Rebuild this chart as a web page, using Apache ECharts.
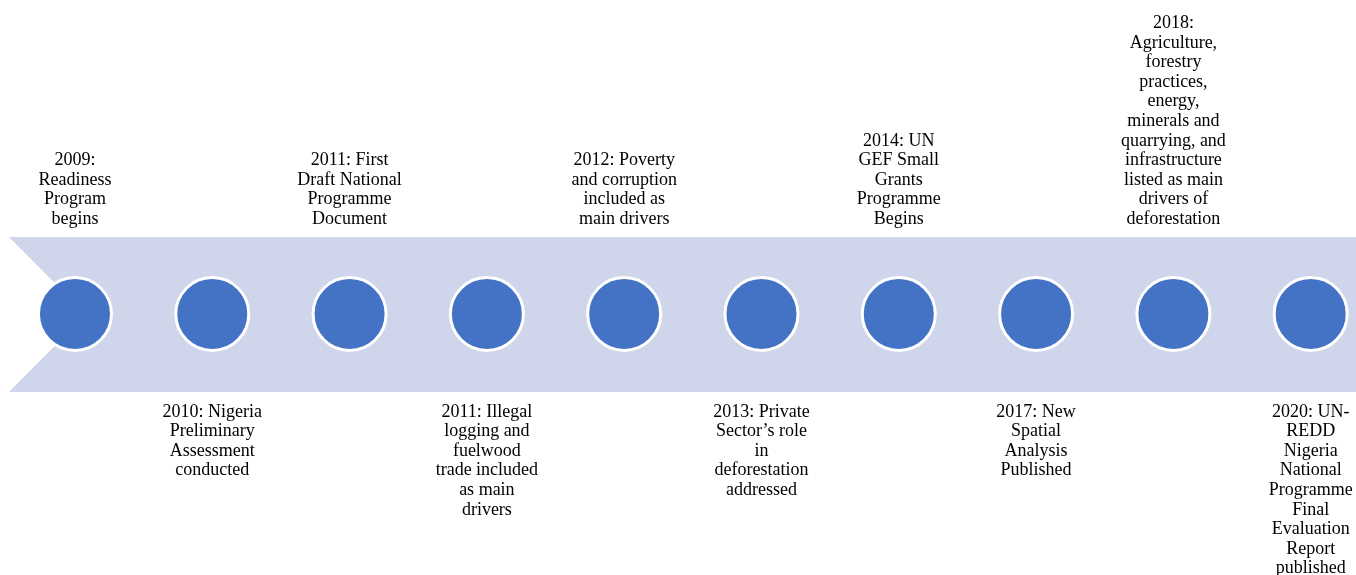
<html>
    <head>
        <meta charset="utf-8">
        <script src="https://cdn.jsdelivr.net/npm/echarts@6/dist/echarts.min.js"></script>
    </head>
    <body>
        <style>
            html, body, #main {
                width: 100%;
                height: 100%;
                margin: 0;
                background: #fff;
            }
        </style>
        <div id="main"></div>
        <script>
            // milestones along the timeline, left to right
            var steps = [0, 1, 2, 3, 4, 5, 6, 7, 8, 9];
            var labelLines = [
                ['2009:', 'Readiness', 'Program', 'begins'],
                ['2010: Nigeria', 'Preliminary', 'Assessment', 'conducted'],
                ['2011: First', 'Draft National', 'Programme', 'Document'],
                ['2011: Illegal', 'logging and', 'fuelwood', 'trade included', 'as main', 'drivers'],
                ['2012: Poverty', 'and corruption', 'included as', 'main drivers'],
                ['2013: Private', 'Sector\u2019s role', 'in', 'deforestation', 'addressed'],
                ['2014: UN', 'GEF Small', 'Grants', 'Programme', 'Begins'],
                ['2017: New', 'Spatial', 'Analysis', 'Published'],
                ['2018:', 'Agriculture,', 'forestry', 'practices,', 'energy,', 'minerals and', 'quarrying, and', 'infrastructure', 'listed as main', 'drivers of', 'deforestation'],
                ['2020: UN-', 'REDD', 'Nigeria', 'National', 'Programme', 'Final', 'Evaluation', 'Report', 'published']
            ];
            // even steps have their text above the band, odd ones below
            var sides = ['top', 'bottom', 'top', 'bottom', 'top', 'bottom', 'top', 'bottom', 'top', 'bottom'];

            var chart = echarts.init(document.getElementById('main'));

            var data = steps.map(function (s, i) {
                return {
                    value: [s, 0],
                    label: {
                        position: sides[i],
                        distance: sides[i] === 'top' ? 47 : 50
                    }
                };
            });

            chart.setOption({
                animation: false,
                grid: { left: 0, right: 0, top: 53, bottom: 0 },
                xAxis: {
                    type: 'value',
                    min: -0.546,
                    max: 9.33,
                    show: false
                },
                yAxis: {
                    type: 'value',
                    min: -1,
                    max: 1,
                    show: false
                },
                graphic: [{
                    type: 'polygon',
                    z: -1,
                    shape: {
                        points: [[9, 237], [1356, 237], [1356, 392], [9, 392], [86, 314.5]]
                    },
                    style: { fill: '#CFD5EA' }
                }],
                series: [{
                    type: 'scatter',
                    symbol: 'circle',
                    symbolSize: 73,
                    data: data,
                    itemStyle: {
                        color: '#4472C4',
                        borderColor: '#ffffff',
                        borderWidth: 3,
                        opacity: 1
                    },
                    label: {
                        show: true,
                        formatter: function (p) {
                            return labelLines[p.dataIndex].join('\n');
                        },
                        fontFamily: '"Liberation Serif", "Times New Roman", serif',
                        fontSize: 18,
                        lineHeight: 19.6,
                        color: '#000',
                        align: 'center'
                    },
                    emphasis: { disabled: true }
                }]
            });
        </script>
    </body>
</html>
